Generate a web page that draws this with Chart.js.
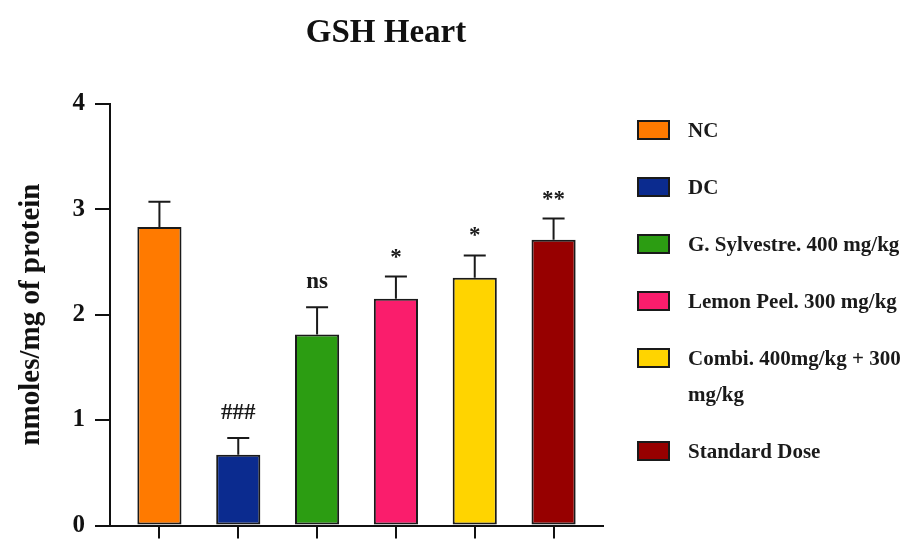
<!DOCTYPE html>
<html>
<head>
<meta charset="utf-8">
<title>GSH Heart</title>
<script src="https://cdn.jsdelivr.net/npm/chart.js@4/dist/chart.umd.min.js"></script>
<style>
  html, body { margin: 0; padding: 0; background: #fff; }
  #wrap { position: relative; width: 912px; height: 548px; overflow: hidden; }
  #legend {
    position: absolute; left: 637px; top: 112px;
    font: bold 21px "Liberation Serif", "Times New Roman", serif; color: #1a1a1a;
  }
  .item { display: flex; align-items: flex-start; margin-bottom: 21px; }
  .box { width: 29px; height: 16px; border: 2px solid #1a1a1a; margin-top: 8px; flex: none; }
  .txt { margin-left: 18px; width: 224px; line-height: 36px; }
</style>
</head>
<body>
<div id="wrap">
  <canvas id="chart" width="912" height="548"></canvas>
  <div id="legend"></div>
</div>
<script>
// Treatment groups, GSH means (nmoles/mg of protein), SEM and significance marks
const categories = ['NC', 'DC', 'G. Sylvestre. 400 mg/kg', 'Lemon Peel. 300 mg/kg', 'Combi. 400mg/kg + 300 mg/kg', 'Standard Dose'];
const gshMean = [2.83, 0.67, 1.81, 2.15, 2.35, 2.71];
const gshSem = [0.24, 0.16, 0.26, 0.21, 0.21, 0.20];
const significance = ['', '###', 'ns', '*', '*', '**'];
const barColors = ['#FF7A00', '#0B2B8F', '#2C9D12', '#FA1D6C', '#FFD400', '#970000'];
const yTicks = [0, 1, 2, 3, 4];

const SERIF = '"Liberation Serif", "Times New Roman", serif';

// HTML legend, one entry per group
const legendEl = document.getElementById('legend');
categories.forEach((label, i) => {
  const item = document.createElement('div');
  item.className = 'item';
  const box = document.createElement('div');
  box.className = 'box';
  box.style.background = barColors[i];
  const txt = document.createElement('div');
  txt.className = 'txt';
  txt.textContent = label;
  item.appendChild(box);
  item.appendChild(txt);
  legendEl.appendChild(item);
});

// Error bars (mean + SEM) and significance marks above each bar
const semBars = {
  id: 'semBars',
  afterDatasetsDraw(chart) {
    const { ctx, scales: { x, y } } = chart;
    ctx.save();
    ctx.strokeStyle = '#1a1a1a';
    ctx.fillStyle = '#1a1a1a';
    ctx.lineWidth = 2;
    ctx.font = 'bold 23px ' + SERIF;
    ctx.textAlign = 'center';
    ctx.textBaseline = 'alphabetic';
    gshMean.forEach((m, i) => {
      const px = x.getPixelForValue(i);
      const y0 = y.getPixelForValue(m);
      const y1 = y.getPixelForValue(m + gshSem[i]);
      ctx.beginPath();
      ctx.moveTo(px, y0);
      ctx.lineTo(px, y1);
      ctx.moveTo(px - 11, y1);
      ctx.lineTo(px + 11, y1);
      ctx.stroke();
      const s = significance[i];
      if (s) {
        const d = ctx.measureText(s).actualBoundingBoxDescent || 0;
        ctx.fillText(s, px, y1 - 19 - d);
      }
    });
    ctx.restore();
  }
};

new Chart(document.getElementById('chart'), {
  type: 'bar',
  data: {
    datasets: [{
      data: gshMean.map((v, i) => ({ x: i, y: v })),
      backgroundColor: barColors,
      borderColor: '#1a1a1a',
      borderWidth: 2,
      borderSkipped: false,
      categoryPercentage: 1,
      barPercentage: 0.56
    }]
  },
  options: {
    responsive: false,
    animation: false,
    devicePixelRatio: 1,
    layout: { padding: { left: 0, right: 140, top: 0, bottom: 0 } },
    plugins: {
      legend: { display: false },
      tooltip: { enabled: false },
      title: {
        display: true,
        text: 'GSH Heart',
        color: '#111',
        font: { family: SERIF, size: 33, weight: 'bold' },
        padding: { top: 14, bottom: 50 }
      }
    },
    scales: {
      x: {
        type: 'linear',
        offset: false,
        min: -0.627,
        max: 5.627,
        afterBuildTicks: s => { s.ticks = categories.map((c, i) => ({ value: i })); },
        ticks: { display: false },
        grid: { display: true, offset: false, drawOnChartArea: false, drawTicks: true, tickLength: 13, color: '#111', lineWidth: 2 },
        border: { display: true, color: '#111', width: 2 }
      },
      y: {
        min: 0,
        max: 4,
        afterBuildTicks: s => { s.ticks = yTicks.map(v => ({ value: v })); },
        ticks: { color: '#111', padding: 10, font: { family: SERIF, size: 25, weight: 'bold', lineHeight: 1 } },
        grid: { drawOnChartArea: false, drawTicks: true, tickLength: 15, color: '#111', lineWidth: 2 },
        border: { display: true, color: '#111', width: 2 },
        title: {
          display: true,
          text: 'nmoles/mg of protein',
          color: '#111',
          font: { family: SERIF, size: 29, weight: 'bold' },
          padding: { top: 14, bottom: 0 }
        },
        afterFit: s => { s.width = 110; }
      },
      // empty right-hand gutter reserved for the legend
      gutter: {
        type: 'linear',
        position: 'right',
        display: true,
        grid: { display: false },
        ticks: { display: false },
        border: { display: false },
        afterFit: s => { s.width = 169; }
      }
    }
  },
  plugins: [semBars]
});
</script>
</body>
</html>
